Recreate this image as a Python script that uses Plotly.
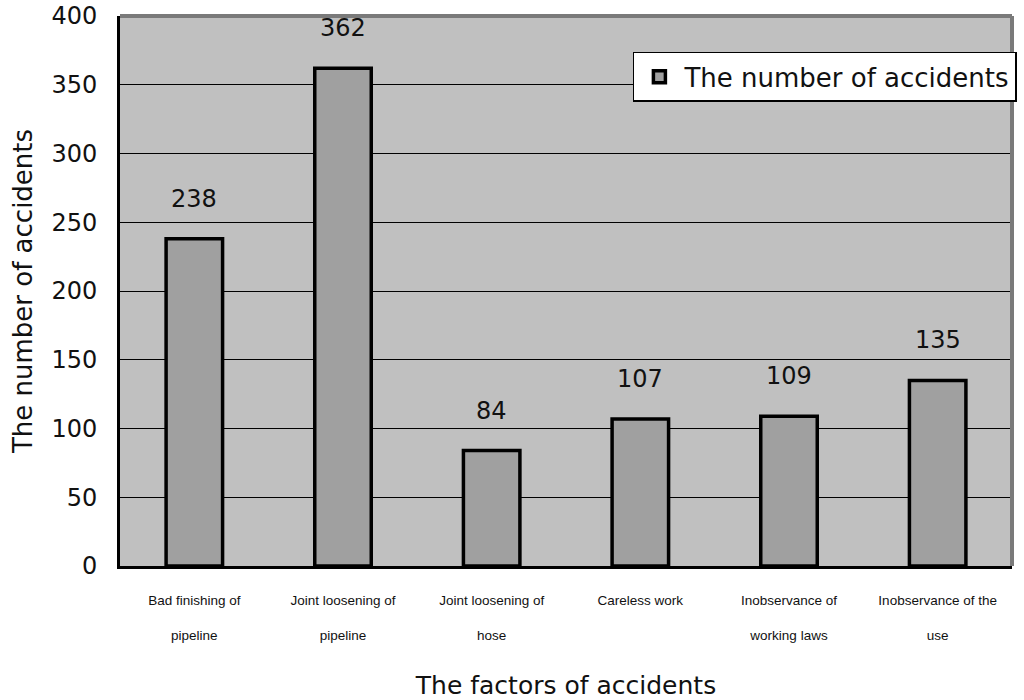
import plotly.graph_objects as go

factors = [
    "Bad finishing of<br> <br>pipeline",
    "Joint loosening of<br> <br>pipeline",
    "Joint loosening of<br> <br>hose",
    "Careless work",
    "Inobservance of<br> <br>working laws",
    "Inobservance of the<br> <br>use",
]
accidents = [238, 362, 84, 107, 109, 135]

fig = go.Figure()
fig.add_trace(
    go.Bar(
        x=factors,
        y=accidents,
        name="The number of accidents",
        width=0.38,
        marker={"color": "#a0a0a0", "line": {"color": "#000000", "width": 3.5}},
    )
)

# value labels floating above each bar
for cat, val in zip(factors, accidents):
    fig.add_annotation(
        x=cat, y=val, text=str(val), showarrow=False, yshift=40,
        font={"size": 24, "color": "#111111", "family": "DejaVu Sans"},
    )

# grey shadow along top and right of the plot frame
fig.add_shape(type="line", xref="paper", yref="paper", x0=0, x1=1.0, y0=1.0, y1=1.0,
              line={"color": "#7a7a7a", "width": 4})
fig.add_shape(type="line", xref="paper", yref="paper", x0=1.0, x1=1.0, y0=0, y1=1.0,
              line={"color": "#7a7a7a", "width": 4})

fig.update_layout(
    width=1024,
    height=700,
    paper_bgcolor="#ffffff",
    plot_bgcolor="#c0c0c0",
    margin={"l": 120, "r": 12, "t": 16, "b": 134, "autoexpand": False},
    showlegend=True,
    legend={
        "x": 0.575, "y": 0.935, "xanchor": "left", "yanchor": "top",
        "bgcolor": "#ffffff", "bordercolor": "#000000", "borderwidth": 1.5,
        "font": {"size": 26, "family": "DejaVu Sans", "color": "#111111"},
        "itemwidth": 40,
    },
    font={"family": "DejaVu Sans", "color": "#111111"},
)
fig.update_xaxes(
    automargin=False,
    showline=True, linecolor="#000000", linewidth=3,
    tickfont={"size": 13.5, "family": "Liberation Sans"},
    ticks="", showgrid=False, ticklabelstandoff=20,
    title={"text": "The factors of accidents", "font": {"size": 25}, "standoff": 37},
)
fig.update_yaxes(
    automargin=False,
    range=[0, 400], dtick=50,
    showline=True, linecolor="#000000", linewidth=3,
    showgrid=True, gridcolor="#000000", gridwidth=1,
    tickfont={"size": 24}, ticks="", ticklabelstandoff=15,
    zeroline=False,
    title={"text": "The number of accidents", "font": {"size": 26}, "standoff": 12},
)

# drop the page's default body margin so the figure sits at the window's corner
fig.write_html(
    "out.html",
    config={"displayModeBar": False},
    post_script="document.body.style.margin='0';",
)
